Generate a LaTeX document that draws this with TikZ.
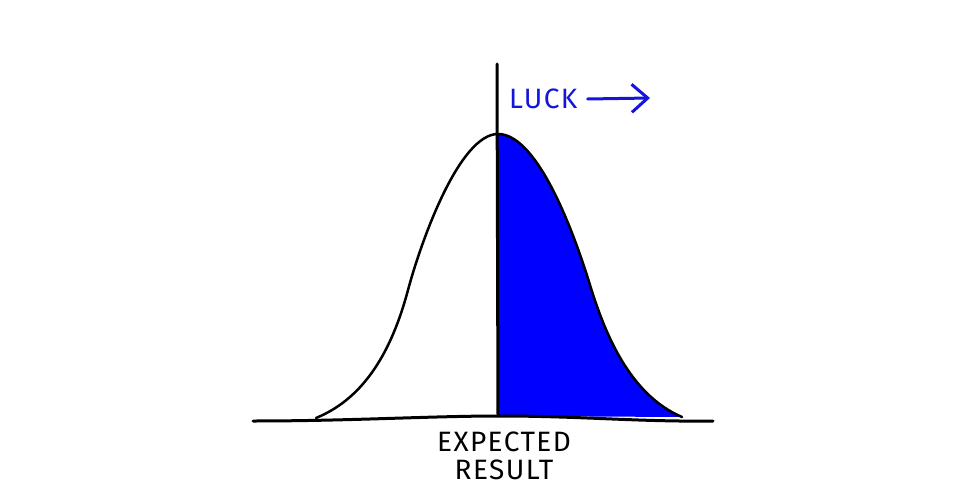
\documentclass[tikz,border=0pt]{standalone}
\usepackage{fontspec}
\setmainfont{Fira Sans}
\newfontfamily\handfont[LetterSpace=5]{Fira Sans}
\usetikzlibrary{arrows.meta}
\definecolor{luckblue}{RGB}{0,0,255}
\definecolor{lblue}{RGB}{20,20,220}
\tikzset{
  ink/.style={line width=2.5pt, line cap=round, line join=round},
  lbl/.style={inner sep=0pt, font=\handfont\fontsize{28}{31}\selectfont},
}
\begin{document}
\begin{tikzpicture}[x=1pt,y=-1pt]
\useasboundingbox (0,0) rectangle (980,500);
% right filled half
\fill[luckblue] (498,134) .. controls (535,134) and (570,220) .. (590,285)
  .. controls (605,334) and (630,395) .. (682,417) -- (498,416) -- cycle;
% bell curve outline
\draw[ink] (316,418) .. controls (365,398) and (392,350) .. (408,290)
  .. controls (422,238) and (460,134) .. (498,134);
\draw[ink] (498,134) .. controls (535,134) and (570,220) .. (590,285)
  .. controls (605,334) and (630,395) .. (682,417);
% baseline
\draw[ink, line width=3pt] (253,421) .. controls (350,421) and (430,416) .. (500,416)
  .. controls (580,416) and (640,422) .. (713,421);
% vertical line
\coordinate (top) at (497,64);
\coordinate (bot) at (498,416);
\draw[ink, line width=3pt] (top) -- (bot);
% labels
\node[lbl, text=lblue, anchor=west] (luck) at (509,99) {LUCK};
\coordinate (arrend) at (650,98);
\draw[line width=3pt, lblue, line cap=round, -{Straight Barb[length=16pt,width=28pt,line width=3pt]}]
  ([xshift=10pt]luck.east) -- (arrend);
\node[lbl, align=center, anchor=north] (exp) at (504,432) {EXPECTED\\[-3pt]RESULT};
\end{tikzpicture}
\end{document}
